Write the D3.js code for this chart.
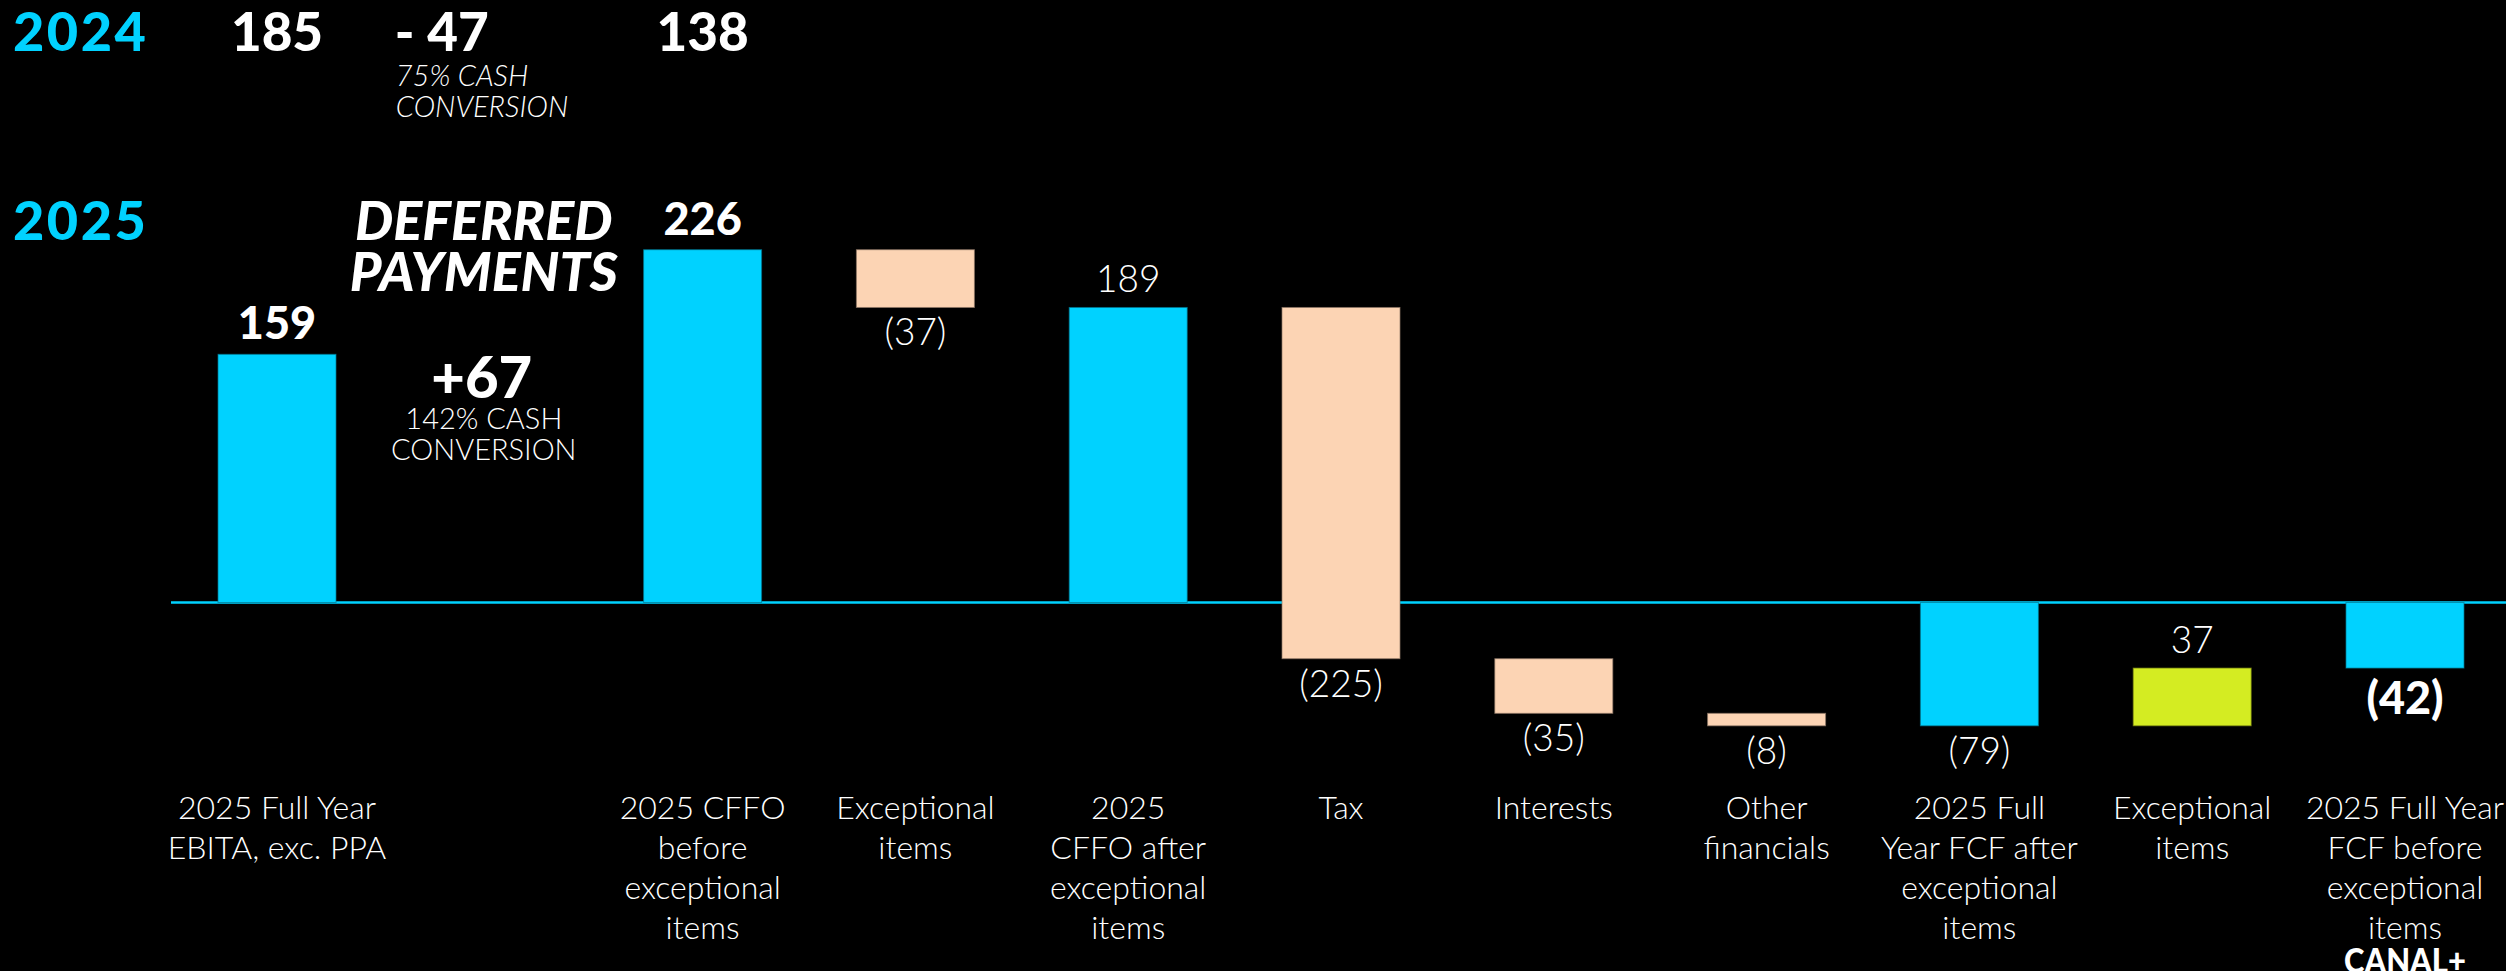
<!DOCTYPE html>
<html><head><meta charset="utf-8">
<script src="https://cdn.jsdelivr.net/npm/d3@7"></script>
<style>html,body{margin:0;background:#000;overflow:hidden} svg{display:block}</style>
</head><body><svg id="c" width="2506" height="971"></svg>
<script>
// ---------- data ----------
const slots = d3.range(11);
const categoryLabels = [
  "2025 Full Year\nEBITA, exc. PPA",
  "",
  "2025 CFFO\nbefore\nexceptional\nitems",
  "Exceptional\nitems",
  "2025\nCFFO after\nexceptional\nitems",
  "Tax",
  "Interests",
  "Other\nfinancials",
  "2025 Full\nYear FCF after\nexceptional\nitems",
  "Exceptional\nitems",
  "2025 Full Year\nFCF before\nexceptional\nitems"
];
const values2025 = [159, null, 226, -37, 189, -225, -35, -8, -79, 37, -42];
const barKinds   = ["total", "gap", "total", "delta", "total", "delta", "delta", "delta", "total", "delta", "total"];
const yearLabels = ["2024", "2025"];
const ebita2024 = 185;
const cffo2024 = 138;
const deferredTitle = ["DEFERRED", "PAYMENTS"];
const brand = "CANAL+";

// ---------- styles ----------
const CYAN = "#00D2FF", PEACH = "#FCD4B4", LIME = "#D4EC22";
const LIGHT = "Lato, 'Open Sans', sans-serif";
const emphasised = new Set([0, 2, 10]);

const svg = d3.select("#c");
svg.append("rect").attr("width", 2506).attr("height", 971).attr("fill", "#000");

const x = d3.scaleBand().domain(slots).range([170.6, 2511.4]).paddingInner(0.4455).paddingOuter(0.2228);
const y = d3.scaleLinear().domain([-120, 260]).range([602.5 + 120 * 1.561, 602.5 - 260 * 1.561]);

// running waterfall
let run = 0;
const segs = [];
values2025.forEach((v, i) => {
  if (barKinds[i] === "gap") return;
  if (barKinds[i] === "total") { run = v; segs.push({i, v, a: 0, b: v, fill: CYAN}); }
  else { const s = run; run += v; segs.push({i, v, a: s, b: run, fill: v < 0 ? PEACH : LIME}); }
});

// zero line
svg.append("line").attr("x1", 171).attr("x2", 2506).attr("y1", y(0)).attr("y2", y(0))
  .attr("stroke", CYAN).attr("stroke-width", 2.5);

// bars
svg.append("g").selectAll("rect").data(segs).join("rect")
  .attr("x", d => x(d.i)).attr("width", x.bandwidth())
  .attr("y", d => y(Math.max(d.a, d.b)))
  .attr("height", d => Math.abs(y(d.a) - y(d.b)))
  .attr("fill", d => d.fill)
  .attr("stroke", d => d3.color(d.fill).darker(1.6)).attr("stroke-width", 1).attr("stroke-opacity", 0.7);

// value labels
svg.append("g").selectAll("text").data(segs).join("text")
  .attr("x", d => x(d.i) + x.bandwidth() / 2)
  .attr("y", d => d.v >= 0 ? y(Math.max(d.a, d.b)) - 15 : y(Math.min(d.a, d.b)) + (emphasised.has(d.i) ? 46 : 38))
  .attr("text-anchor", "middle").attr("fill", "#ffffff")
  .attr("font-family", LIGHT)
  .attr("font-weight", d => emphasised.has(d.i) ? 900 : 300)
  .attr("font-size", d => emphasised.has(d.i) ? 45 : 37)
  .text(d => d.v < 0 ? `(${-d.v})` : d.v);

// category axis
const axis = d3.axisBottom(x).tickSize(0).tickFormat(i => categoryLabels[i]);
const ag = svg.append("g").call(axis);
ag.select(".domain").remove();
ag.selectAll(".tick text").each(function(i) {
  const t = d3.select(this);
  t.text(null).attr("y", null).attr("dy", null)
   .attr("fill", "#fff").attr("font-family", LIGHT).attr("font-weight", 300).attr("font-size", 32);
  categoryLabels[i].split("\n").forEach((line, k) => {
    t.append("tspan").attr("x", 0).attr("y", 819 + k * 40).text(line);
  });
});

// year labels
yearLabels.forEach((yr, k) => {
  svg.append("text").attr("x", 13).attr("y", k === 0 ? 51 : 240)
    .attr("fill", CYAN).attr("font-family", LIGHT).attr("font-weight", 900).attr("font-size", 54)
    .attr("letter-spacing", 2.5)
    .text(yr);
});

// 2024 row
const cx = i => x(i) + x.bandwidth() / 2;
const bold = (sel) => sel.attr("fill", "#fff").attr("font-family", LIGHT).attr("font-weight", 900);
bold(svg.append("text")).attr("x", cx(0)).attr("y", 51).attr("text-anchor", "middle").attr("font-size", 53).text(ebita2024);
bold(svg.append("text")).attr("x", cx(2)).attr("y", 51).attr("text-anchor", "middle").attr("font-size", 53).text(cffo2024);
bold(svg.append("text")).attr("x", x(1) - 36).attr("y", 51).attr("font-size", 53)
  .text("- " + Math.abs(cffo2024 - ebita2024));
const conv24 = Math.round(cffo2024 / ebita2024 * 100);
[`${conv24}% CASH`, "CONVERSION"].forEach((s, k) => {
  svg.append("text").attr("x", x(1) - 35).attr("y", 86 + k * 31)
    .attr("fill", "#fff").attr("font-family", LIGHT).attr("font-weight", 300)
    .attr("font-style", "italic").attr("font-size", 29).text(s);
});

// 2025 deferred payments annotation
const midX = cx(1) - 6;
deferredTitle.forEach((s, k) => {
  bold(svg.append("text")).attr("x", midX).attr("y", 240 + k * 51).attr("text-anchor", "middle")
    .attr("font-style", "italic").attr("font-size", 54).text(s);
});
const delta25 = values2025[2] - values2025[0];
bold(svg.append("text")).attr("x", midX - 2).attr("y", 398).attr("text-anchor", "middle")
  .attr("font-size", 58).text("+" + delta25);
const conv25 = Math.round(values2025[2] / values2025[0] * 100);
[`${conv25}% CASH`, "CONVERSION"].forEach((s, k) => {
  svg.append("text").attr("x", midX).attr("y", 429 + k * 31).attr("text-anchor", "middle")
    .attr("fill", "#fff").attr("font-family", LIGHT).attr("font-weight", 300).attr("font-size", 29).text(s);
});

// brand
bold(svg.append("text")).attr("x", cx(10)).attr("y", 973).attr("text-anchor", "middle")
  .attr("font-size", 34).attr("textLength", 122).attr("lengthAdjust", "spacingAndGlyphs")
  .text(brand);
</script></body></html>
